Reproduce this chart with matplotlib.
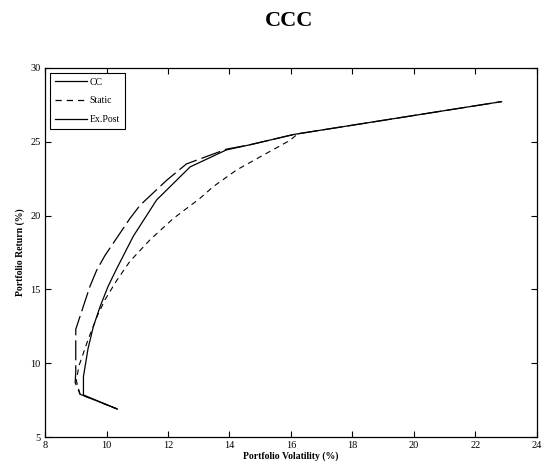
import matplotlib

matplotlib.use("Agg")
import matplotlib.pyplot as plt
from matplotlib.lines import Line2D

# efficient frontiers (volatility %, return %)
cc_vol = [10.35, 9.25, 9.25, 9.40, 9.57, 9.79, 10.05, 10.33, 10.87, 11.63, 12.72, 13.90, 14.67, 16.10, 22.85]
cc_ret = [6.90, 7.85, 9.10, 11.00, 12.47, 13.83, 15.20, 16.40, 18.60, 21.06, 23.30, 24.45, 24.80, 25.50, 27.72]

static_vol = [10.35, 9.14, 9.02, 9.10, 9.25, 9.40, 9.70, 9.95, 10.33, 10.76, 11.41, 12.17, 13.04, 13.47, 14.23, 15.10, 15.97, 16.20]
static_ret = [6.90, 7.90, 8.80, 9.80, 10.70, 11.60, 13.20, 14.30, 15.60, 16.90, 18.35, 19.80, 21.17, 21.96, 23.09, 24.10, 25.10, 25.50]

expost_vol = [10.35, 9.14, 8.98, 9.00, 9.00, 9.19, 9.46, 9.68, 9.95, 10.76, 11.09, 11.96, 12.60, 13.90, 14.67, 16.10, 22.85]
expost_ret = [6.90, 7.90, 8.70, 9.40, 12.30, 13.50, 15.20, 16.30, 17.30, 19.80, 20.70, 22.40, 23.50, 24.50, 24.80, 25.50, 27.72]

plt.rcParams["font.family"] = ["Liberation Serif", "DejaVu Serif"]

fig = plt.figure(figsize=(5.49, 4.72), dpi=100)
ax = fig.add_axes([0.082, 0.074, 0.896, 0.782])

ax.plot(cc_vol, cc_ret, color="black", linewidth=0.9, linestyle="-")
ax.plot(static_vol, static_ret, color="black", linewidth=0.8, linestyle=(0, (5, 4)))
ax.plot(expost_vol, expost_ret, color="black", linewidth=0.9, linestyle=(0, (16, 4)))

ax.set_xlim(8, 24)
ax.set_ylim(5, 30)
ax.set_xticks(range(8, 25, 2))
ax.set_yticks(range(5, 31, 5))
ax.tick_params(direction="in", top=True, right=True, length=4, width=0.8, labelsize=7.5, pad=3)
for spine in ax.spines.values():
    spine.set_linewidth(0.9)

ax.set_xlabel("Portfolio Volatility (%)", fontsize=7, fontweight="bold", labelpad=1)
ax.set_ylabel("Portfolio Return (%)", fontsize=7, fontweight="bold", labelpad=4)
fig.text(0.526, 0.956, "CCC", ha="center", va="center", fontsize=16, fontweight="bold")

handles = [
    Line2D([], [], color="black", linewidth=0.9, linestyle="-"),
    Line2D([], [], color="black", linewidth=0.9, linestyle=(0, (5, 4))),
    Line2D([], [], color="black", linewidth=0.9, linestyle="-"),
]
leg = ax.legend(handles, ["CC", "Static", "Ex.Post"], loc="upper left", fontsize=7,
                handlelength=3.3, borderaxespad=0.5, fancybox=False, framealpha=1,
                edgecolor="black", labelspacing=1.0, handletextpad=0.3, borderpad=0.5)
leg.get_frame().set_linewidth(0.8)

fig.savefig("out.png", dpi=100)
